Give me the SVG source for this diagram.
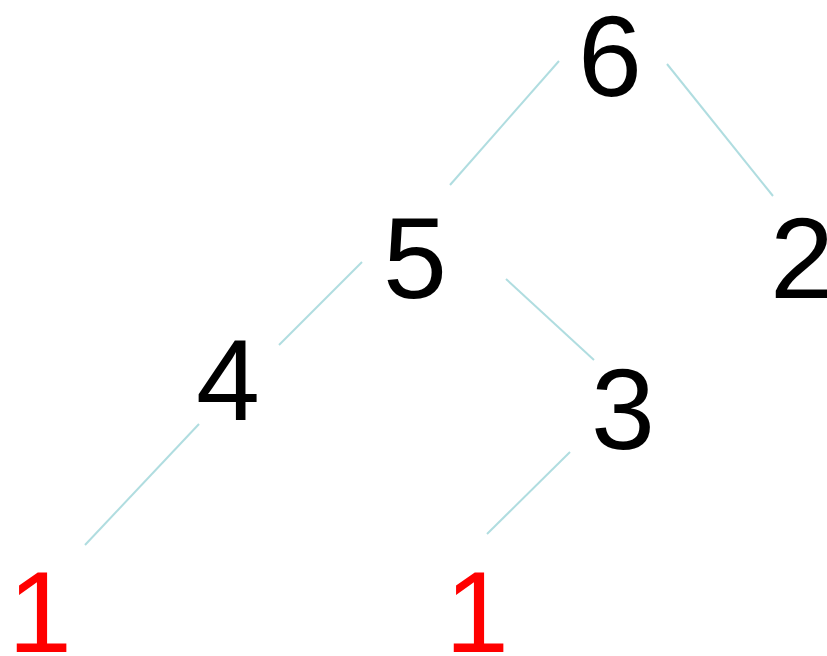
<svg xmlns="http://www.w3.org/2000/svg" width="827" height="656" viewBox="0 0 827 656">
<style>
text{font-family:"Liberation Sans",Arial,sans-serif;font-size:115px;fill:#000}
.leaf{fill:#ff0000}
.edge{stroke:#b0dde0;stroke-width:2;fill:none}
</style>
<rect width="827" height="656" fill="#fff"/>
<g id="connectors">
<line class="edge" x1="559" y1="61" x2="450" y2="185"/>
<line class="edge" x1="667" y1="64" x2="773" y2="196"/>
<line class="edge" x1="362" y1="262" x2="279" y2="345"/>
<line class="edge" x1="506" y1="279" x2="594" y2="360"/>
<line class="edge" x1="199" y1="424" x2="85" y2="545"/>
<line class="edge" x1="570" y1="452" x2="487" y2="534"/>
</g>
<g id="n6"><text x="578" y="96">6</text></g>
<g id="n5"><text x="383" y="298">5</text></g>
<g id="n2"><text x="770" y="298">2</text></g>
<g id="n4"><text x="196" y="420">4</text></g>
<g id="n3"><text x="591" y="449">3</text></g>
<g id="n1a"><text class="leaf" x="8" y="652">1</text></g>
<g id="n1b"><text class="leaf" x="445" y="652">1</text></g>
</svg>
